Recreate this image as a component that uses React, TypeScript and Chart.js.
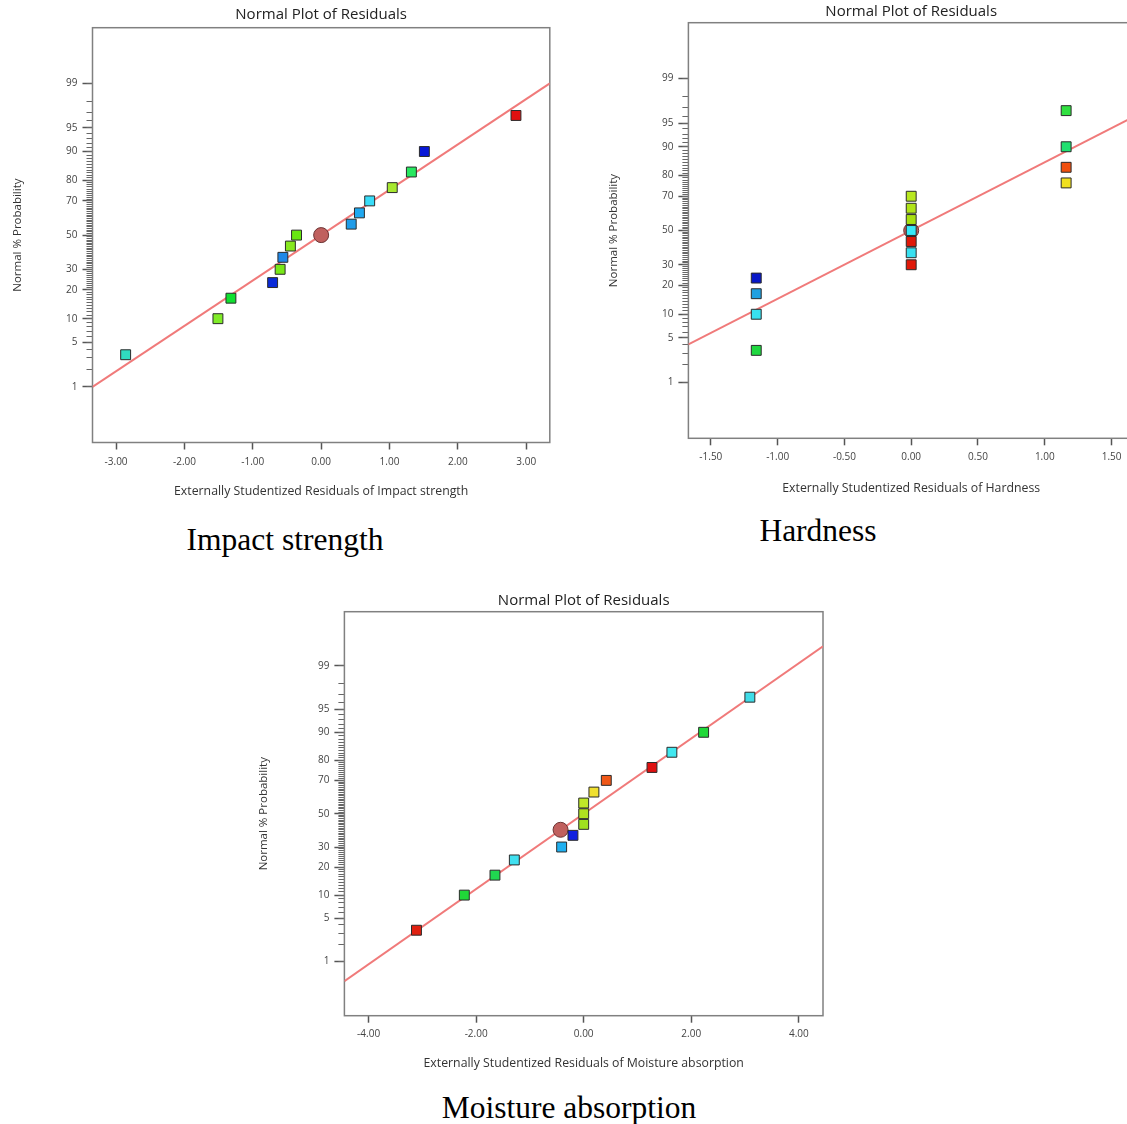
import React, { useEffect, useRef } from "react";
import { Chart, registerables } from "chart.js";

Chart.register(...registerables);

// ---------------- data ----------------
// normal % probability of each ordered residual
const normalProbability = [3.33, 10, 16.67, 23.33, 30, 36.67, 43.33, 50, 56.67, 63.33, 70, 76.67, 83.33, 90, 96.67];

// Impact strength
const impactResiduals = [-2.86, -1.51, -1.32, -0.71, -0.6, -0.56, -0.45, -0.36, 0.44, 0.56, 0.71, 1.04, 1.32, 1.51, 2.85];
const impactColors = ["#30dcc0", "#80ec28", "#10e030", "#0a2ad8", "#78e818", "#2088e8", "#88e820", "#68e810", "#209ce8", "#20a8f0", "#38dcf8", "#a8e830", "#28e860", "#0818d8", "#e01010"];
const impactCenterX = [0.0];
const impactCenterP = [50];
const impactLineX = [-3.345, 3.345];
const impactLineP = [1.0, 99.0];
const impactXTicks = [-3, -2, -1, 0, 1, 2, 3];

// Hardness
const hardnessResiduals = [-1.16, -1.16, -1.16, -1.16, 0, 0, 0, 0, 0, 0, 0, 1.16, 1.16, 1.16, 1.16];
const hardnessColors = ["#20d840", "#38e0f0", "#20a0e0", "#0818c8", "#e01808", "#38e0f0", "#e01808", "#38e8f8", "#a8e010", "#b0e418", "#b8e820", "#f0e020", "#f05010", "#20e070", "#30e040"];
const hardnessCenterX = [0.0];
const hardnessCenterP = [50];
const hardnessLineX = [-1.668, 1.668];
const hardnessLineP = [4.07, 95.93];
const hardnessXTicks = [-1.5, -1, -0.5, 0, 0.5, 1, 1.5];

// Moisture absorption
const moistureResiduals = [-3.11, -2.22, -1.65, -1.29, -0.41, -0.2, 0.0, 0.0, 0.0, 0.19, 0.42, 1.27, 1.64, 2.23, 3.09];
const moistureColors = ["#e02010", "#20d838", "#20d850", "#40e0f0", "#20b0f0", "#1020e0", "#a0e020", "#b0e020", "#c0e828", "#f0e030", "#f05818", "#e01010", "#40e8f0", "#20d838", "#40dce8"];
const moistureCenterX = [-0.43];
const moistureCenterP = [40];
const moistureLineX = [-4.45, 4.45];
const moistureLineP = [0.42, 99.58];
const moistureXTicks = [-4, -2, 0, 2, 4];

// probability axis ticks
const probTickValues = [1, 5, 10, 20, 30, 50, 70, 80, 90, 95, 99];
const probTickLabels = ["1", "5", "10", "20", "30", "50", "70", "80", "90", "95", "99"];
const probMinorTicks = Array.from({ length: 99 }, (_, i) => i + 1);

// ---------------- helpers ----------------
function probit(p: number): number {
  const a = [-3.969683028665376e1, 2.209460984245205e2, -2.759285104469687e2, 1.38357751867269e2, -3.066479806614716e1, 2.506628277459239];
  const b = [-5.447609879822406e1, 1.615858368580409e2, -1.556989798598866e2, 6.680131188771972e1, -1.328068155288572e1];
  const c = [-7.784894002430293e-3, -3.223964580411365e-1, -2.400758277161838, -2.549732539343734, 4.374664141464968, 2.938163982698783];
  const d = [7.784695709041462e-3, 3.224671290700398e-1, 2.445134137142996, 3.754408661907416];
  const pLow = 0.02425;
  const pHigh = 1 - pLow;
  if (p < pLow) {
    const q = Math.sqrt(-2 * Math.log(p));
    return (((((c[0] * q + c[1]) * q + c[2]) * q + c[3]) * q + c[4]) * q + c[5]) / ((((d[0] * q + d[1]) * q + d[2]) * q + d[3]) * q + 1);
  } else if (p <= pHigh) {
    const q = p - 0.5;
    const r = q * q;
    return ((((((a[0] * r + a[1]) * r + a[2]) * r + a[3]) * r + a[4]) * r + a[5]) * q) / (((((b[0] * r + b[1]) * r + b[2]) * r + b[3]) * r + b[4]) * r + 1);
  }
  const q = Math.sqrt(-2 * Math.log(1 - p));
  return -(((((c[0] * q + c[1]) * q + c[2]) * q + c[3]) * q + c[4]) * q + c[5]) / ((((d[0] * q + d[1]) * q + d[2]) * q + d[3]) * q + 1);
}

const FONT = "'Open Sans', 'Noto Sans', sans-serif";
const Z_MIN = -3.18;
const Z_MAX = 3.18;
const TITLE_SIZE = 15;
const AXIS_TITLE_X = 12.3;
const AXIS_TITLE_Y = 11.5;
const TICK_SIZE = 10;

type Layout = {
  left: number;
  top: number;
  width: number;
  height: number;
  padRight: number;
  titlePadTop: number;
  titlePadBottom: number;
  yWidth: number;
  yTitlePad: number;
  yTickLen: number;
  xHeight: number;
  xLabelPad: number;
  xTitlePadBottom: number;
};

type Panel = {
  residuals: number[];
  probs: number[];
  colors: string[];
  centerX: number[];
  centerP: number[];
  lineX: number[];
  lineP: number[];
  xMin: number;
  xMax: number;
  xTicks: number[];
  xTitle: string;
  layout: Layout;
};

const impactPanel: Panel = {
  residuals: impactResiduals,
  probs: normalProbability,
  colors: impactColors,
  centerX: impactCenterX,
  centerP: impactCenterP,
  lineX: impactLineX,
  lineP: impactLineP,
  xMin: -3.345,
  xMax: 3.345,
  xTicks: impactXTicks,
  xTitle: "Externally Studentized Residuals of Impact strength",
  layout: { left: 0, top: 0, width: 560, height: 505, padRight: 10.2, titlePadTop: 6, titlePadBottom: 3.7, yWidth: 92.5, yTitlePad: 10.9, yTickLen: 10, xHeight: 62.5, xLabelPad: 6.2, xTitlePadBottom: 5.9 },
};

const hardnessPanel: Panel = {
  residuals: hardnessResiduals,
  probs: normalProbability,
  colors: hardnessColors,
  centerX: hardnessCenterX,
  centerP: hardnessCenterP,
  lineX: hardnessLineX,
  lineP: hardnessLineP,
  xMin: -1.668,
  xMax: 1.668,
  xTicks: hardnessXTicks,
  xTitle: "Externally Studentized Residuals of Hardness",
  layout: { left: 560, top: 0, width: 590, height: 500, padRight: 16, titlePadTop: 2.7, titlePadBottom: 2, yWidth: 128.4, yTitlePad: 47.1, yTickLen: 10, xHeight: 61.7, xLabelPad: 5.5, xTitlePadBottom: 4.3 },
};

const moisturePanel: Panel = {
  residuals: moistureResiduals,
  probs: normalProbability,
  colors: moistureColors,
  centerX: moistureCenterX,
  centerP: moistureCenterP,
  lineX: moistureLineX,
  lineP: moistureLineP,
  xMin: -4.45,
  xMax: 4.45,
  xTicks: moistureXTicks,
  xTitle: "Externally Studentized Residuals of Moisture absorption",
  layout: { left: 240, top: 580, width: 600, height: 500, padRight: 17, titlePadTop: 11.7, titlePadBottom: 2, yWidth: 104.4, yTitlePad: 16.8, yTickLen: 10, xHeight: 64.3, xLabelPad: 5.5, xTitlePadBottom: 9.3 },
};

const framePlugin = {
  id: "frame",
  beforeDatasetsDraw(chart: any) {
    const { ctx, chartArea: a } = chart;
    ctx.save();
    ctx.strokeStyle = "#808080";
    ctx.lineWidth = 1.5;
    ctx.strokeRect(a.left, a.top, a.right - a.left, a.bottom - a.top);
    ctx.restore();
  },
};

function buildConfig(p: Panel): any {
  const L = p.layout;
  return {
    type: "scatter",
    data: {
      datasets: [
        {
          label: "residuals",
          data: p.residuals.map((x, i) => ({ x, y: probit(p.probs[i] / 100) })),
          pointStyle: "rect",
          pointRadius: 7,
          pointHoverRadius: 7,
          backgroundColor: p.colors,
          borderColor: "#2b2b2b",
          borderWidth: 1,
          order: 0,
        },
        {
          label: "center",
          data: p.centerX.map((x, i) => ({ x, y: probit(p.centerP[i] / 100) })),
          pointStyle: "circle",
          pointRadius: 7.5,
          pointHoverRadius: 7.5,
          backgroundColor: "#c0605e",
          borderColor: "#6b3434",
          borderWidth: 1,
          order: 1,
        },
        {
          label: "fit",
          data: p.lineX.map((x, i) => ({ x, y: probit(p.lineP[i] / 100) })),
          showLine: true,
          pointRadius: 0,
          borderColor: "#f07a7a",
          borderWidth: 2,
          order: 2,
        },
      ],
    },
    options: {
      responsive: false,
      animation: false,
      events: [],
      layout: { padding: { left: 0, right: L.padRight, top: 0, bottom: 0 } },
      plugins: {
        legend: { display: false },
        tooltip: { enabled: false },
        title: {
          display: true,
          text: "Normal Plot of Residuals",
          fullSize: false,
          color: "#222",
          font: { family: FONT, size: TITLE_SIZE, weight: "normal" },
          padding: { top: L.titlePadTop, bottom: L.titlePadBottom },
        },
      },
      scales: {
        x: {
          type: "linear",
          position: "bottom",
          min: p.xMin,
          max: p.xMax,
          afterBuildTicks: (s: any) => {
            s.ticks = p.xTicks.map((v) => ({ value: v }));
          },
          afterFit: (s: any) => {
            s.height = L.xHeight;
          },
          ticks: {
            autoSkip: false,
            maxRotation: 0,
            padding: L.xLabelPad,
            color: "#444",
            font: { family: FONT, size: TICK_SIZE },
            callback: (v: any) => Number(v).toFixed(2),
          },
          grid: { display: true, drawOnChartArea: false, drawTicks: true, tickLength: 7, tickColor: "#555", tickWidth: 1.5 },
          border: { display: false },
          title: {
            display: true,
            text: p.xTitle,
            color: "#333",
            font: { family: FONT, size: AXIS_TITLE_X },
            padding: { top: 0, bottom: L.xTitlePadBottom },
          },
        },
        y: {
          type: "linear",
          position: "left",
          weight: 1,
          min: Z_MIN,
          max: Z_MAX,
          afterBuildTicks: (s: any) => {
            s.ticks = probTickValues.map((v) => ({ value: probit(v / 100) }));
          },
          afterFit: (s: any) => {
            s.width = L.yWidth;
          },
          ticks: {
            autoSkip: false,
            padding: 5,
            color: "#444",
            font: { family: FONT, size: TICK_SIZE },
            callback: (_v: any, i: number) => probTickLabels[i],
          },
          grid: { display: true, drawOnChartArea: false, drawTicks: true, tickLength: L.yTickLen, tickColor: "#555", tickWidth: 1.5 },
          border: { display: false },
          title: {
            display: true,
            text: "Normal % Probability",
            color: "#333",
            font: { family: FONT, size: AXIS_TITLE_Y },
            padding: { top: L.yTitlePad, bottom: 0 },
          },
        },
        yMinor: {
          type: "linear",
          position: "left",
          weight: 0,
          min: Z_MIN,
          max: Z_MAX,
          afterBuildTicks: (s: any) => {
            s.ticks = probMinorTicks.map((v) => ({ value: probit(v / 100) }));
          },
          afterFit: (s: any) => {
            s.width = 0;
          },
          ticks: { display: false, autoSkip: false },
          grid: { display: true, drawOnChartArea: false, drawTicks: true, tickLength: 6, tickColor: "#666", tickWidth: 1 },
          border: { display: false },
        },
      },
    },
    plugins: [framePlugin],
  };
}

function NormalPlot({ panel }: { panel: Panel }) {
  const ref = useRef<HTMLCanvasElement>(null);
  useEffect(() => {
    if (!ref.current) return;
    const chart = new Chart(ref.current, buildConfig(panel));
    return () => chart.destroy();
  }, [panel]);
  const L = panel.layout;
  return (
    <canvas
      ref={ref}
      width={L.width}
      height={L.height}
      style={{ position: "absolute", left: L.left, top: L.top, width: L.width, height: L.height }}
    />
  );
}

const CAPTION_SIZE = 31.5;

function Caption({ text, cx, baseline }: { text: string; cx: number; baseline: number }) {
  return (
    <div
      style={{
        position: "absolute",
        left: cx - 250,
        width: 500,
        top: baseline - 0.8375 * CAPTION_SIZE,
        textAlign: "center",
        fontFamily: "'Liberation Serif', 'Times New Roman', serif",
        fontSize: CAPTION_SIZE,
        lineHeight: `${CAPTION_SIZE}px`,
        color: "#000",
        whiteSpace: "nowrap",
      }}
    >
      {text}
    </div>
  );
}

export default function App() {
  return (
    <div
      style={{
        position: "absolute",
        left: 0,
        top: 0,
        width: 1127,
        height: 1124,
        overflow: "hidden",
        background: "#fff",
      }}
    >
      <NormalPlot panel={impactPanel} />
      <NormalPlot panel={hardnessPanel} />
      <NormalPlot panel={moisturePanel} />
      <Caption text="Impact strength" cx={285} baseline={550} />
      <Caption text="Hardness" cx={818} baseline={541} />
      <Caption text="Moisture absorption" cx={569} baseline={1118} />
    </div>
  );
}
